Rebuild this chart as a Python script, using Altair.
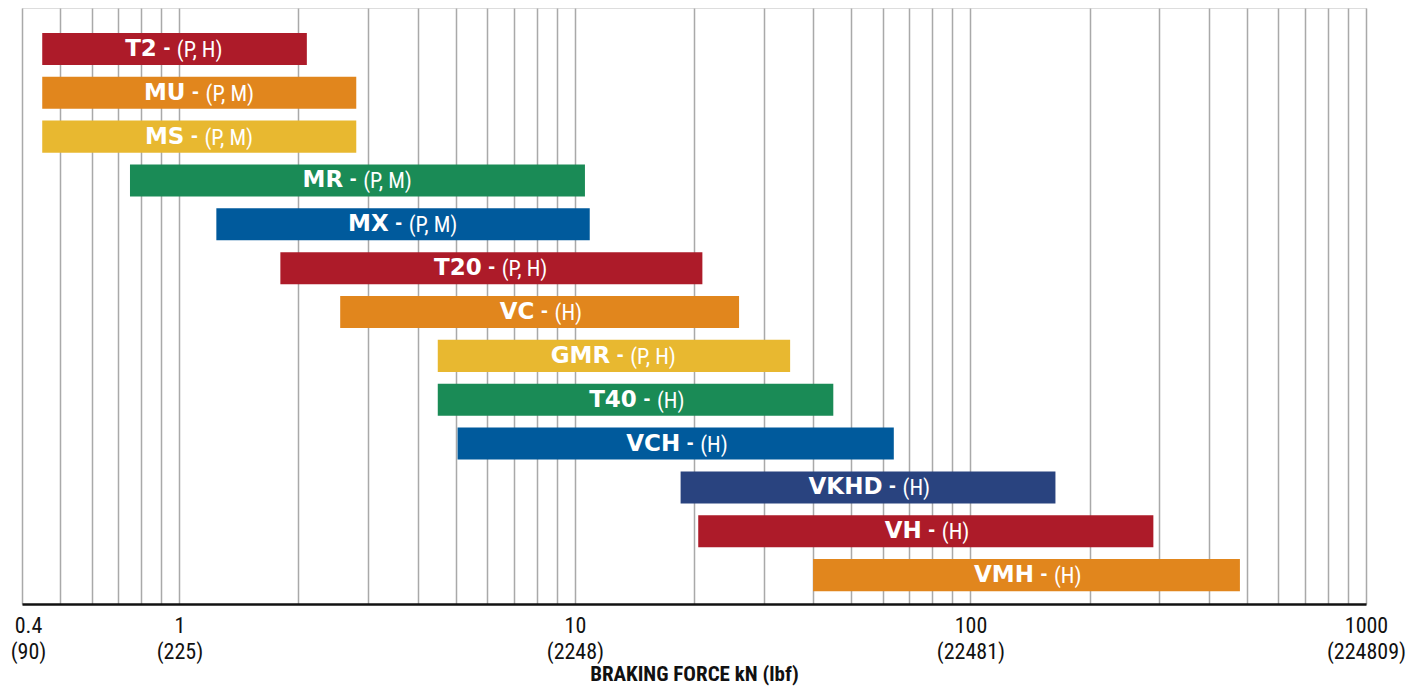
import math
import altair as alt
import pandas as pd

# ---- data ----
names = ["T2", "MU", "MS", "MR", "MX", "T20", "VC", "GMR", "T40", "VCH", "VKHD", "VH", "VMH"]
types = ["(P, H)", "(P, M)", "(P, M)", "(P, M)", "(P, M)", "(P, H)", "(H)", "(P, H)", "(H)", "(H)", "(H)", "(H)", "(H)"]
low = [0.45, 0.45, 0.45, 0.75, 1.24, 1.8, 2.55, 4.5, 4.5, 5.05, 18.5, 20.5, 40]
high = [2.1, 2.8, 2.8, 10.6, 10.9, 21, 26, 35, 45, 64, 164, 290, 480]
colors = ["#AD1B29", "#E1861D", "#E8B830", "#1A8B56", "#005A9C", "#AD1B29", "#E1861D",
          "#E8B830", "#1A8B56", "#005A9C", "#29437F", "#AD1B29", "#E1861D"]

tick_kn = [0.4, 1, 10, 100, 1000]
tick_lbf = [90, 225, 2248, 22481, 224809]
grid_vals = [0.4, 0.5, 0.6, 0.7, 0.8, 0.9] + [m * 10 ** e for e in range(0, 3) for m in range(1, 10)] + [1000]

X_MIN, X_MAX = 0.4, 1000
PLOT_W, PLOT_H = 1344, 596

# ---- label layout helpers (approximate glyph widths, em) ----
NAME_FONT = "DejaVu Sans"
NAME_SIZE = 23
SUF_FONT = "Liberation Sans Narrow, Roboto Condensed, Roboto, sans-serif"
SUF_SIZE = 22
name_em = {"T": .682, "2": .696, "M": .995, "U": .812, "S": .720, "R": .770, "X": .763, "0": .696,
           "V": .774, "C": .734, "G": .821, "4": .696, "H": .837, "K": .775, "D": .830}
suf_em = {"(": .273, ")": .273, "P": .547, "H": .591, "M": .683, ",": .228, " ": .228}
DASH_AT = 10
TYPE_AT = 20
PX_PER_DECADE = PLOT_W / math.log10(X_MAX / X_MIN)


def width(s, table, size):
    return sum(table.get(ch, .55) for ch in s) * size


def shift(v, px):
    # move a value on the log axis by a pixel distance
    return v * 10 ** (px / PX_PER_DECADE)


rows = []
for n, t, lo, hi, c in zip(names, types, low, high, colors):
    wn = width(n, name_em, NAME_SIZE)
    ws = TYPE_AT + width(t, suf_em, SUF_SIZE)
    split = (wn - ws) / 2
    mid = math.sqrt(lo * hi)
    rows.append(dict(name=n, dash="-", typ=t, lo=lo, hi=hi, color=c,
                     nx=shift(mid, split), dx_=shift(mid, split + DASH_AT),
                     tx=shift(mid, split + TYPE_AT)))
df = pd.DataFrame(rows)

parts = " : ".join(
    f"datum.value == {k} ? ['{k}', '({l})']" for k, l in zip(tick_kn, tick_lbf)
)
label_expr = parts + " : ''"

xs = alt.Scale(type="log", domain=[X_MIN, X_MAX], nice=False)
ys = alt.Y("name:N", sort=names, axis=None,
           scale=alt.Scale(paddingInner=0.269, paddingOuter=0.43, align=0.66))

base = alt.Chart(df)

bars = base.mark_bar().encode(
    x=alt.X("lo:Q", scale=xs, axis=alt.Axis(
        values=grid_vals, grid=True, gridColor="#A9A9A9", gridWidth=1.5,
        ticks=False, domainColor="#111111", domainWidth=2.5,
        labelExpr=label_expr, labelFont=SUF_FONT, labelFontSize=22, labelColor="#111111",
        labelPadding=11, labelLineHeight=26, labelOverlap=False, labelFlush=False,
        labelBound=False,
        labelOffset=alt.condition("datum.value == 0.4", alt.value(6), alt.value(0)),
        title="BRAKING FORCE kN (lbf)", titleFont=SUF_FONT, titleFontSize=21,
        titleFontWeight="bold", titleColor="#111111", titlePadding=1,
    )),
    x2="hi:Q",
    y=ys,
    color=alt.Color("color:N", scale=None),
)

name_txt = base.mark_text(align="right", baseline="middle", font=NAME_FONT, fontWeight="bold",
                          fontSize=NAME_SIZE, color="white").encode(
    x=alt.X("nx:Q", scale=xs), y=ys, text="name:N",
)

dash_txt = base.mark_text(align="center", baseline="middle", font=SUF_FONT, fontWeight="bold",
                          fontSize=SUF_SIZE, color="white").encode(
    x=alt.X("dx_:Q", scale=xs), y=ys, text="dash:N",
)

type_txt = base.mark_text(align="left", baseline="middle", font=SUF_FONT,
                          fontSize=SUF_SIZE, color="white", dy=1).encode(
    x=alt.X("tx:Q", scale=xs), y=ys, text="typ:N",
)

chart = (bars + name_txt + dash_txt + type_txt).properties(
    width=PLOT_W, height=PLOT_H,
    autosize=alt.AutoSizeParams(type="none"),
    padding={"left": 14, "top": 0, "right": 40, "bottom": 82},
).configure_view(fill="#F2F0EA", stroke=None).configure(background="white")

chart.save("out.html", embed_options={"renderer": "svg", "actions": False})
